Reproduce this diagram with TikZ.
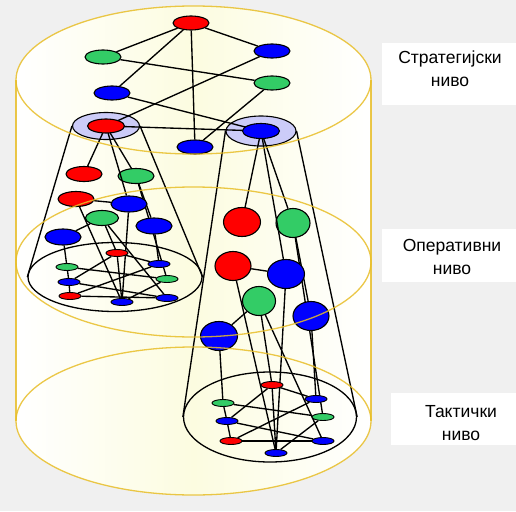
\documentclass[tikz,border=0pt]{standalone}
\usepackage{fontspec}
\setmainfont{Liberation Sans}
\usepackage{tikz}
\usetikzlibrary{shapes.geometric, backgrounds}
\definecolor{bgcolor}{RGB}{240,240,240}
\definecolor{levelcolor}{RGB}{232,190,40}
\definecolor{levelfill}{RGB}{252,252,224}
\definecolor{ringcolor}{RGB}{204,204,248}
\definecolor{nred}{RGB}{255,0,0}
\definecolor{ngreen}{RGB}{51,204,102}
\definecolor{nblue}{RGB}{0,0,255}

\begin{document}
\begin{tikzpicture}[
    x=1pt, y=-1pt,
    nd/.style={draw, ellipse, inner sep=0pt, line width=1.1pt, minimum width=36pt, minimum height=14pt},
    bignd/.style={nd, minimum width=36pt, minimum height=29pt},
    smallnd/.style={nd, line width=0.9pt, minimum width=22pt, minimum height=7pt},
    ring/.style={draw, ellipse, fill=ringcolor, line width=1.1pt},
    conebase/.style={draw, ellipse, inner sep=0pt, line width=1.3pt},
    conn/.style={line width=1.35pt},
    tier/.style={draw=levelcolor, line width=1.3pt, opacity=0.85},
    tiername/.style={font=\fontsize{17.5}{23}\selectfont, align=center}
]
    \useasboundingbox (0,0) rectangle (516,511);

    % Strategic level
    \node[nd, fill=nred] (t1) at (191,23) {};
    \node[nd, fill=ngreen] (t2) at (103,57) {};
    \node[nd, fill=nblue] (t3) at (272,51) {};
    \node[nd, fill=ngreen] (t4) at (272,83) {};
    \node[nd, fill=nblue] (t5) at (112,93) {};
    \node[nd, fill=nblue] (t6) at (195,147) {};
    \node[ring, minimum width=67pt, minimum height=27pt] (lring) at (106,126) {};
    \node[ring, minimum width=70pt, minimum height=30pt] (rring) at (261,131) {};

    % Left cone
    \node[nd, fill=nred, minimum height=15pt] (la) at (84,174) {};
    \node[nd, fill=ngreen, minimum height=15pt] (lb) at (136,176) {};
    \node[nd, fill=nred, minimum height=15pt] (lc) at (76,199) {};
    \node[nd, fill=nblue, minimum height=16pt] (ld) at (129,204) {};
    \node[nd, fill=ngreen, minimum width=33pt, minimum height=15pt] (le) at (102,218) {};
    \node[nd, fill=nblue, minimum height=16pt] (lf) at (154,226) {};
    \node[nd, fill=nblue, minimum height=16pt] (lg) at (63,237) {};
    \node[conebase, minimum width=174pt, minimum height=69pt] (lbase) at (115,277) {};
    \node[smallnd, fill=nred] (ls1) at (117,253) {};
    \node[smallnd, fill=ngreen] (ls2) at (67,267) {};
    \node[smallnd, fill=nblue] (ls3) at (159,264) {};
    \node[smallnd, fill=nblue] (ls4) at (69,282) {};
    \node[smallnd, fill=ngreen] (ls5) at (167,279) {};
    \node[smallnd, fill=nred] (ls6) at (70,296) {};
    \node[smallnd, fill=nblue] (ls7) at (122,302) {};
    \node[smallnd, fill=nblue] (ls8) at (167,298) {};

    % Right cone
    \node[bignd, fill=nred, minimum width=37pt] (ra) at (242,222) {};
    \node[bignd, fill=ngreen, minimum width=34pt] (rb) at (293,223) {};
    \node[bignd, fill=nred] (rc) at (233,266) {};
    \node[bignd, fill=nblue, minimum width=37pt] (rd) at (286,274) {};
    \node[bignd, fill=ngreen, minimum width=33pt] (re) at (259,301) {};
    \node[bignd, fill=nblue] (rf) at (311,316) {};
    \node[bignd, fill=nblue, minimum width=37pt] (rg) at (219,336) {};
    \node[conebase, minimum width=173pt, minimum height=90pt] (rbase) at (270,417) {};
    \node[smallnd, fill=nred] (rs1) at (272,385) {};
    \node[smallnd, fill=ngreen] (rs2) at (223,403) {};
    \node[smallnd, fill=nblue] (rs3) at (316,399) {};
    \node[smallnd, fill=nblue] (rs4) at (227,421) {};
    \node[smallnd, fill=ngreen] (rs5) at (323,417) {};
    \node[smallnd, fill=nred] (rs6) at (231,441) {};
    \node[smallnd, fill=nblue] (rs7) at (276,453) {};
    \node[smallnd, fill=nblue] (rs8) at (323,441) {};

    \begin{scope}[on background layer]
        \fill[bgcolor] (0,0) rectangle (516,511);
        % cylinder of the three levels
        \shade[left color=white, right color=white, middle color=levelfill]
            (16,80) -- (16,421) arc[start angle=180, end angle=360, x radius=177.5pt, y radius=74pt]
            -- (371,80) arc[start angle=0, end angle=180, x radius=177.5pt, y radius=74pt] -- cycle;

        % Connections
        \draw[conn] (t1) -- (t2);
        \draw[conn] (t1) -- (t3);
        \draw[conn] (t1) -- (t5);
        \draw[conn] (t1) -- (t6);
        \draw[conn] (t2) -- (t4);
        \draw[conn] (t4) -- (t6);

        \draw[conn] (lring.west) -- (lbase.west);
        \draw[conn] (lring.east) -- (lbase.east);
        \draw[conn] (rring.west) -- (rbase.west);
        \draw[conn] (rring.east) -- (rbase.east);

        \foreach \c in {l,r} {
            \draw[conn] (\c c) -- (\c d);
            \draw[conn] (\c b) -- (\c f);
            \draw[conn] (\c e) -- (\c g);
            \draw[conn] (\c c) -- (\c s7);
            \draw[conn] (\c d) -- (\c s7);
            \draw[conn] (\c e) -- (\c s1);
            \draw[conn] (\c e) -- (\c s8);
            \draw[conn] (\c f) -- (\c s3);
            \draw[conn] (\c g) -- (\c s2);
            \draw[conn] (\c b) -- (\c s5);
            \draw[conn] (\c s2) -- (\c s4);
            \draw[conn] (\c s4) -- (\c s6);
            \draw[conn] (\c s6) -- (\c s8);
            \draw[conn] (\c s1) -- (\c s3);
            \draw[conn] (\c s1) -- (\c s4);
            \draw[conn] (\c s1) -- (\c s7);
            \draw[conn] (\c s2) -- (\c s5);
            \draw[conn] (\c s3) -- (\c s6);
            \draw[conn] (\c s5) -- (\c s7);
            \draw[conn] (\c s4) -- (\c s8);
        }
    \end{scope}

    % links over the rings
    \draw[conn] (t3) -- (lring.center);
    \draw[conn] (t5) -- (rring.center);
    \draw[conn] (lring.center) -- (rring.center);
    \foreach \c in {l,r} {
        \draw[conn] (\c ring.center) -- (\c a);
        \draw[conn] (\c ring.center) -- (\c b);
        \draw[conn] (\c ring.center) -- (\c d);
    }
    \node[nd, fill=nred, minimum width=37pt] (lcore) at (lring.center) {};
    \node[nd, fill=nblue, minimum width=37pt, minimum height=15pt] (rcore) at (rring.center) {};

    % level outlines
    \draw[tier] (193.5,80) ellipse [x radius=177.5pt, y radius=74pt];
    \draw[tier] (193.5,262) ellipse [x radius=177.5pt, y radius=75pt];
    \draw[tier] (193.5,421) ellipse [x radius=177.5pt, y radius=74pt];
    \draw[tier] (16,80) -- (16,421) (371,80) -- (371,421);

    % level names
    \fill[white] (382,43) rectangle (516,105);
    \fill[white] (382,229) rectangle (516,282);
    \fill[white] (391,393) rectangle (516,445);
    \node[tiername] (strat) at (450,69) {Стратегијски\\ниво};
    \node[tiername] (oper) at (452,257) {Оперативни\\ниво};
    \node[tiername] (takt) at (461,423) {Тактички\\ниво};
\end{tikzpicture}
\end{document}
